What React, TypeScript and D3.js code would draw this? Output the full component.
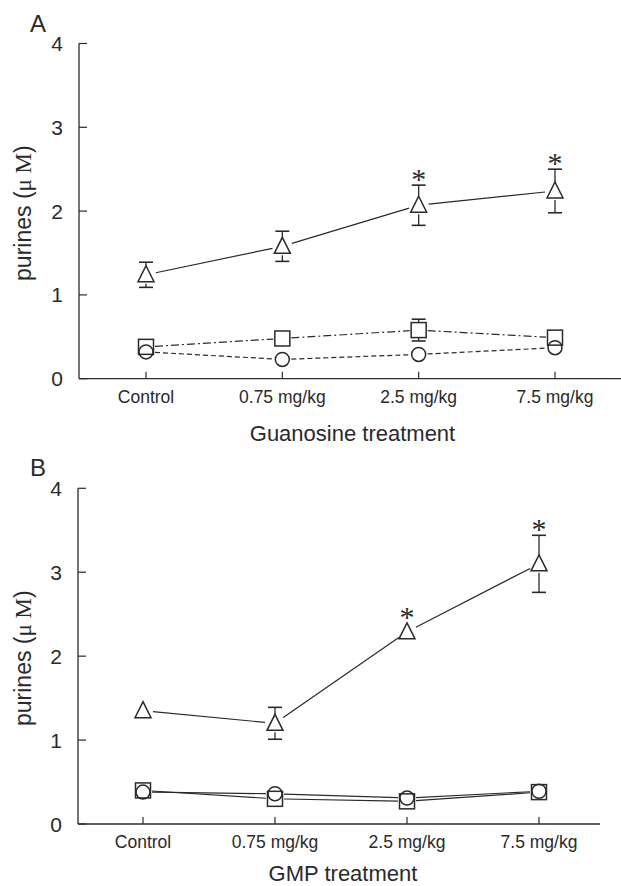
import React, { useEffect, useRef } from 'react';
import * as d3 from 'd3';

const doses = ['Control', '0.75 mg/kg', '2.5 mg/kg', '7.5 mg/kg'];
const yTicks = [0, 1, 2, 3, 4];

// panel A - guanosine
const aTriangle = [1.24, 1.58, 2.07, 2.24];
const aTriangleErr = [0.15, 0.18, 0.24, 0.26];
const aSquare = [0.38, 0.48, 0.58, 0.49];
const aSquareErr = [0, 0, 0.13, 0];
const aCircle = [0.32, 0.23, 0.29, 0.37];
const aCircleErr = [0, 0, 0, 0];
const aStars = [false, false, true, true];

// panel B - GMP
const bTriangle = [1.35, 1.2, 2.29, 3.1];
const bTriangleErr = [0, 0.19, 0, 0.34];
const bSquare = [0.4, 0.3, 0.27, 0.38];
const bSquareErr = [0, 0, 0, 0];
const bCircle = [0.38, 0.36, 0.31, 0.39];
const bCircleErr = [0, 0, 0, 0];
const bStars = [false, false, true, true];

const INK = '#2a2a2a';
const SANS = 'Liberation Sans, Arial, sans-serif';

function drawPanel(svg, opts) {
  const { top, bottom, left, right, xFirst, xLast, letter, title, titleY, series, stars } = opts;
  const g = svg.append('g');
  const x = d3.scalePoint().domain(doses).range([xFirst, xLast]);
  const y = d3.scaleLinear().domain([0, 4]).range([bottom, top]);

  // axes
  g.append('line').attr('x1', left).attr('x2', left).attr('y1', top).attr('y2', bottom)
    .attr('stroke', INK).attr('stroke-width', 1.3);
  g.append('line').attr('x1', left).attr('x2', right).attr('y1', bottom).attr('y2', bottom)
    .attr('stroke', INK).attr('stroke-width', 1.3);

  yTicks.forEach(t => {
    g.append('line').attr('x1', left).attr('x2', left + 8).attr('y1', y(t)).attr('y2', y(t))
      .attr('stroke', INK).attr('stroke-width', 1.2);
    g.append('text').attr('x', left - 16).attr('y', y(t)).attr('dy', '0.36em')
      .attr('text-anchor', 'end').attr('font-family', SANS).attr('font-size', 21)
      .attr('fill', INK).text(t);
  });

  doses.forEach(d => {
    g.append('line').attr('x1', x(d)).attr('x2', x(d)).attr('y1', bottom).attr('y2', bottom - 7)
      .attr('stroke', INK).attr('stroke-width', 1.2);
    g.append('text').attr('x', x(d)).attr('y', bottom + 24)
      .attr('text-anchor', 'middle').attr('font-family', SANS).attr('font-size', 17.5)
      .attr('fill', INK).text(d);
  });

  g.append('text').attr('x', (xFirst + xLast) / 2 + 2).attr('y', titleY)
    .attr('text-anchor', 'middle').attr('font-family', SANS).attr('font-size', 22)
    .attr('fill', INK).text(title);

  const yl = g.append('text')
    .attr('transform', `translate(31,${(top + bottom) / 2 + 2}) rotate(-90)`)
    .attr('text-anchor', 'middle').attr('font-family', SANS).attr('font-size', 23)
    .attr('fill', INK);
  yl.append('tspan').text('purines (');
  yl.append('tspan').attr('font-family', 'Liberation Serif, Times New Roman, serif').text('\u03bc M');
  yl.append('tspan').text(')');

  g.append('text').attr('x', 38).attr('y', top - 12).attr('text-anchor', 'middle')
    .attr('font-family', SANS).attr('font-size', 24).attr('fill', INK).text(letter);

  series.forEach(s => {
    const pts = s.values.map((v, i) => [x(doses[i]), y(v)]);
    const gap = s.gap;
    // connecting segments, stopping short of the markers
    for (let i = 0; i < pts.length - 1; i++) {
      const [x0, y0] = pts[i];
      const [x1, y1] = pts[i + 1];
      const len = Math.hypot(x1 - x0, y1 - y0);
      const ux = (x1 - x0) / len, uy = (y1 - y0) / len;
      g.append('line')
        .attr('x1', x0 + ux * gap).attr('y1', y0 + uy * gap)
        .attr('x2', x1 - ux * gap).attr('y2', y1 - uy * gap)
        .attr('stroke', INK).attr('stroke-width', 1.2)
        .attr('stroke-dasharray', s.dash);
    }
    // error bars
    s.values.forEach((v, i) => {
      const e = s.errs[i];
      if (!e) return;
      const cx = x(doses[i]);
      [[v + e, y(v) - s.half], [v - e, y(v) + s.half]].forEach(([end, edge]) => {
        const ye = y(end);
        if (Math.abs(ye - y(v)) > s.half + 1) {
          g.append('line').attr('x1', cx).attr('x2', cx).attr('y1', edge).attr('y2', ye)
            .attr('stroke', INK).attr('stroke-width', 1.3);
        }
        g.append('line').attr('x1', cx - 7).attr('x2', cx + 7).attr('y1', ye).attr('y2', ye)
          .attr('stroke', INK).attr('stroke-width', 1.6);
      });
    });
    // markers
    pts.forEach(([cx, cy]) => {
      if (s.shape === 'triangle') {
        g.append('path').attr('d', `M${cx},${cy - 9}L${cx + 8},${cy + 7}L${cx - 8},${cy + 7}Z`)
          .attr('fill', 'none').attr('stroke', INK).attr('stroke-width', 1.5);
      } else if (s.shape === 'square') {
        g.append('rect').attr('x', cx - 7.5).attr('y', cy - 7.5).attr('width', 15).attr('height', 15)
          .attr('fill', 'none').attr('stroke', INK).attr('stroke-width', 1.5);
      } else {
        g.append('circle').attr('cx', cx).attr('cy', cy).attr('r', 7)
          .attr('fill', 'none').attr('stroke', INK).attr('stroke-width', 1.5);
      }
    });
  });

  // significance stars, centred ~13px above the error bar / marker
  const tri = series[0];
  stars.forEach((st, i) => {
    if (!st) return;
    const v = tri.values[i] + tri.errs[i];
    const yy = Math.min(y(v), y(tri.values[i]) - 9);
    g.append('text').attr('x', x(doses[i])).attr('y', yy - 13 + 17)
      .attr('text-anchor', 'middle')
      .attr('font-family', 'Liberation Serif, Times New Roman, serif').attr('font-size', 30)
      .attr('fill', INK).text('*');
  });
}

const App = () => {
  const ref = useRef(null);

  useEffect(() => {
    const svg = d3.select(ref.current);
    svg.selectAll('*').remove();

    drawPanel(svg, {
      top: 43.5, bottom: 378.7, left: 79, right: 621, xFirst: 146, xLast: 555,
      letter: 'A', title: 'Guanosine treatment', titleY: 441, stars: aStars,
      series: [
        { values: aTriangle, errs: aTriangleErr, shape: 'triangle', dash: null, gap: 10, half: 9 },
        { values: aSquare, errs: aSquareErr, shape: 'square', dash: '8,3,2,3', gap: 9, half: 7.5 },
        { values: aCircle, errs: aCircleErr, shape: 'circle', dash: '5,3', gap: 9, half: 7 },
      ],
    });

    drawPanel(svg, {
      top: 488.3, bottom: 824, left: 78, right: 600, xFirst: 143, xLast: 539,
      letter: 'B', title: 'GMP treatment', titleY: 881, stars: bStars,
      series: [
        { values: bTriangle, errs: bTriangleErr, shape: 'triangle', dash: null, gap: 10, half: 9 },
        { values: bSquare, errs: bSquareErr, shape: 'square', dash: null, gap: 9, half: 7.5 },
        { values: bCircle, errs: bCircleErr, shape: 'circle', dash: null, gap: 9, half: 7 },
      ],
    });
  }, []);

  return (
    <svg ref={ref} width={621} height={886}
      style={{ position: 'absolute', left: 0, top: 0, background: '#fff' }} />
  );
};

export default App;
